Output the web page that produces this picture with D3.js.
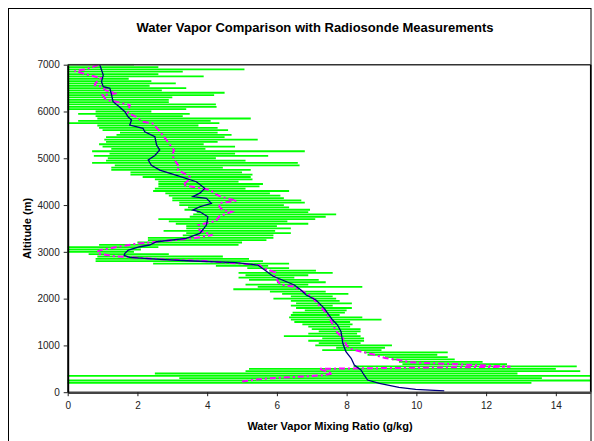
<!DOCTYPE html>
<html><head><meta charset="utf-8">
<script src="https://cdn.jsdelivr.net/npm/d3@7"></script>
<style>body{margin:0;background:#fff}svg{display:block}</style>
</head><body><svg id="c" width="594" height="441"></svg>
<script>
const title = "Water Vapor Comparison with Radiosonde Measurements";
const xLabel = "Water Vapor Mixing Ratio (g/kg)";
const yLabel = "Altitude (m)";
const xTicks = [0, 2, 4, 6, 8, 10, 12, 14];
const yTicks = [0, 1000, 2000, 3000, 4000, 5000, 6000, 7000];

// Lidar retrievals (green error bars): altitude, value, error half-width
const lidarAlt = [200,250,300,350,400,450,500,550,600,650,700,750,800,850,900,950,1000,1050,1100,1150,1200,1250,1300,1350,1400,1450,1500,1550,1600,1650,1700,1750,1800,1850,1900,1950,2000,2050,2100,2150,2200,2250,2300,2350,2400,2450,2500,2550,2600,2650,2700,2750,2800,2850,2900,2950,3000,3050,3100,3150,3200,3250,3300,3350,3400,3450,3500,3550,3600,3650,3700,3750,3800,3850,3900,3950,4000,4050,4100,4150,4200,4250,4300,4350,4400,4450,4500,4550,4600,4650,4700,4750,4800,4850,4900,4950,5000,5050,5100,5150,5200,5250,5300,5350,5400,5450,5500,5550,5600,5650,5700,5750,5800,5850,5900,5950,6000,6050,6100,6150,6200,6250,6300,6350,6400,6450,6500,6550,6600,6650,6700,6750,6800,6850,6900,6950,7000];
const lidarVal = [6.0,7.0,8.4,7.5,7.7,9.9,9.6,11.4,11.1,10.7,10.2,10.0,9.6,9.7,8.15,8.4,8.2,7.8,7.7,7.9,7.3,7.6,7.8,7.7,7.5,7.45,7.3,7.7,7.4,7.1,7.2,7.4,7.35,7.0,7.35,7.1,6.8,7.0,7.1,6.6,5.7,6.95,6.0,6.7,6.2,5.7,6.0,6.25,6.45,5.75,5.0,4.4,3.2,3.0,2.65,1.75,0.6,0.7,1.0,2.9,3.5,4.0,4.1,4.6,4.9,4.35,4.9,4.7,5.0,4.6,4.85,5.45,5.65,5.3,5.15,4.9,4.7,5.0,4.85,4.6,4.5,4.3,4.4,3.8,4.05,4.1,3.75,3.9,3.7,3.55,3.4,3.25,2.85,4.0,3.65,3.1,2.7,3.25,3.0,3.75,2.6,2.9,2.4,2.7,3.25,2.8,3.05,2.9,2.8,2.6,2.3,1.9,2.2,3.05,2.05,1.9,1.6,1.4,1.6,1.8,1.2,1.0,1.3,1.6,1.8,1.1,1.3,1.0,1.2,0.9,0.8,1.5,1.0,1.2,2.0,1.0,0.9];
const lidarErr = [7.3,8.5,5.2,7.6,5.2,4.8,4.4,3.2,1.5,1.2,0.9,0.9,1.0,1.2,0.85,0.7,1.1,0.6,0.8,0.6,1.1,0.7,0.6,0.7,0.6,0.72,0.8,1.3,1.05,0.7,0.75,0.6,0.8,0.6,0.8,0.7,0.9,0.6,0.95,0.8,0.95,1.5,0.9,0.7,1.0,0.8,0.9,1.35,0.67,0.6,0.75,1.95,2.4,2.2,1.8,1.15,1.3,1.4,1.6,2.0,1.5,1.7,1.8,1.3,1.5,1.6,1.5,1.3,1.9,1.7,2.25,1.95,2.05,1.6,1.8,1.45,1.5,1.8,1.85,1.6,1.6,1.5,1.95,1.3,1.45,1.5,1.15,1.4,1.55,1.75,1.6,2.0,1.6,2.65,2.95,2.0,1.55,2.5,1.8,3.05,1.35,1.9,1.5,1.6,2.2,1.7,1.65,1.4,1.8,1.7,1.45,2.45,1.9,2.2,1.25,1.6,0.8,2.0,2.67,2.45,1.7,1.9,1.7,2.6,2.7,1.6,2.1,1.35,1.9,1.5,0.95,2.4,1.6,2.1,3.07,1.6,1.0];

// Lidar profile (magenta dash-dot)
const lidarLineAlt = [230,270,300,330,360,400,450,500,545,590,640,690,730,800,870,930,1000,1150,1300,1450,1600,1750,1860,2000,2100,2200,2255,2300,2400,2500,2565,2650,2718,2755,2810,2840,2874,2910,2960,3000,3039,3109,3167,3216,3252,3295,3359,3420,3466,3573,3659,3760,3857,3893,3960,4043,4092,4178,4250,4321,4428,4520,4605,4678,4748,4819,4962,5070,5176,5353,5567,5747,5781,5887,5966,6137,6200,6245,6351,6387,6450,6529,6565,6608,6714,6780,6822,6865,6900,6956,7000];
const lidarLineVal = [5.0,5.4,5.85,6.6,7.3,7.6,7.4,7.2,12.7,11.4,9.8,9.5,9.1,8.8,8.4,8.1,8.0,7.9,7.7,7.6,7.5,7.35,7.2,7.05,6.9,6.6,6.5,6.1,6.0,5.9,5.95,5.6,5.5,4.85,3.8,2.7,2.0,1.3,0.9,0.84,0.95,1.45,1.9,2.55,3.05,3.65,4.15,3.9,3.78,3.75,4.25,4.35,4.7,4.45,4.35,4.35,4.85,4.4,4.2,4.1,3.3,3.45,3.5,3.34,3.16,3.2,3.06,3.0,3.05,2.87,2.65,2.43,2.15,1.96,1.73,1.78,1.45,1.1,1.0,1.4,1.1,0.97,0.78,0.8,0.95,0.6,0.4,0.2,0.5,0.73,0.9];

// Radiosonde profile (navy)
const sondeAlt = [30,61,105,190,260,368,474,581,724,866,1045,1293,1436,1543,1686,1793,1970,2077,2184,2291,2483,2611,2718,2768,2804,2840,2882,2925,2968,3039,3109,3146,3216,3289,3395,3573,3750,3857,3893,3964,4036,4143,4178,4260,4357,4499,4642,4748,4850,4962,5060,5176,5283,5460,5567,5640,5710,5817,5887,5995,6101,6208,6351,6494,6529,6635,6779,7000];
const sondeVal = [10.8,9.98,9.5,8.94,8.6,8.5,8.41,8.22,8.13,7.98,7.89,7.84,7.74,7.6,7.46,7.36,7.12,6.84,6.69,6.5,5.88,5.65,5.45,4.83,3.59,2.64,1.78,1.62,1.64,1.74,2.07,2.35,2.55,3.4,3.79,3.98,4.02,3.79,3.59,3.79,4.12,3.98,3.59,3.8,3.93,3.69,3.1,2.64,2.4,2.31,2.5,2.64,2.55,2.5,2.21,2.16,1.78,1.83,1.73,1.64,1.48,1.3,1.26,1.21,1.02,0.97,1.02,0.92];

const W = 594, H = 441;
const P = {l: 67.7, r: 590.7, t: 64.7, b: 392.2};
const font = "'Liberation Sans', Arial, sans-serif";
const svg = d3.select("#c");

const x = d3.scaleLinear().domain([0, 15]).range([P.l, P.r]);
const y = d3.scaleLinear().domain([0, 7000]).range([P.b, P.t]);

// outer chart border
svg.append("rect").attr("x", 8.5).attr("y", 8.5).attr("width", 582.5).attr("height", 460)
  .attr("fill", "#fff").attr("stroke", "#000").attr("stroke-width", 1);

svg.append("defs").append("clipPath").attr("id", "pc")
  .append("rect").attr("x", P.l).attr("y", P.t - 1).attr("width", P.r - P.l).attr("height", P.b - P.t + 1);

const g = svg.append("g").attr("clip-path", "url(#pc)");

// error bars
const bars = lidarAlt.map((a, i) => ({a, v: lidarVal[i], e: lidarErr[i]}));
g.selectAll("line.eb").data(bars).join("line").attr("class", "eb")
  .attr("x1", d => x(d.v - d.e)).attr("x2", d => x(d.v + d.e))
  .attr("y1", d => y(d.a)).attr("y2", d => y(d.a))
  .attr("stroke", "#00ff00").attr("stroke-width", 1.8);

// lidar line
const line = d3.line().x(d => x(d[1])).y(d => y(d[0]));
g.append("path").datum(lidarLineAlt.map((a, i) => [a, lidarLineVal[i]]))
  .attr("d", line).attr("fill", "none").attr("stroke", "#ff00ff")
  .attr("stroke-width", 2).attr("stroke-dasharray", "6,3,2,3");

// radiosonde
g.append("path").datum(sondeAlt.map((a, i) => [a, sondeVal[i]]))
  .attr("d", line).attr("fill", "none").attr("stroke", "#000080")
  .attr("stroke-width", 1.3);

// plot frame
svg.append("line").attr("x1", P.l).attr("x2", P.r).attr("y1", P.t).attr("y2", P.t).attr("stroke", "#333").attr("stroke-width", 1.5);
svg.append("line").attr("x1", P.r).attr("x2", P.r).attr("y1", P.t).attr("y2", P.b).attr("stroke", "#000").attr("stroke-width", 1.5);

// axes
const xa = svg.append("g").attr("transform", `translate(0,${P.b})`)
  .call(d3.axisBottom(x).tickValues(xTicks).tickSize(4).tickSizeOuter(0).tickPadding(6));
xa.select(".domain").attr("stroke", "#444").attr("stroke-width", 2.5);
xa.selectAll(".tick line").attr("stroke", "#222").attr("stroke-width", 1);
xa.selectAll("text").attr("font-family", font).attr("font-size", 10).attr("fill", "#222");

const ya = svg.append("g").attr("transform", `translate(${P.l},0)`)
  .call(d3.axisLeft(y).tickValues(yTicks).tickFormat(d3.format("d")).tickSize(4).tickSizeOuter(0).tickPadding(4));
ya.select(".domain").attr("stroke", "#000").attr("stroke-width", 2);
ya.selectAll(".tick line").attr("stroke", "#222").attr("stroke-width", 1);
ya.selectAll("text").attr("font-family", font).attr("font-size", 10).attr("fill", "#222");

svg.append("text").attr("x", 315).attr("y", 32).attr("text-anchor", "middle")
  .attr("font-family", font).attr("font-size", 13).attr("font-weight", "bold").text(title);
svg.append("text").attr("x", 330).attr("y", 430).attr("text-anchor", "middle")
  .attr("font-family", font).attr("font-size", 11).attr("font-weight", "bold").text(xLabel);
svg.append("text").attr("transform", `translate(31,${(P.t + P.b) / 2}) rotate(-90)`).attr("text-anchor", "middle")
  .attr("font-family", font).attr("font-size", 11).attr("font-weight", "bold").text(yLabel);
</script></body></html>
